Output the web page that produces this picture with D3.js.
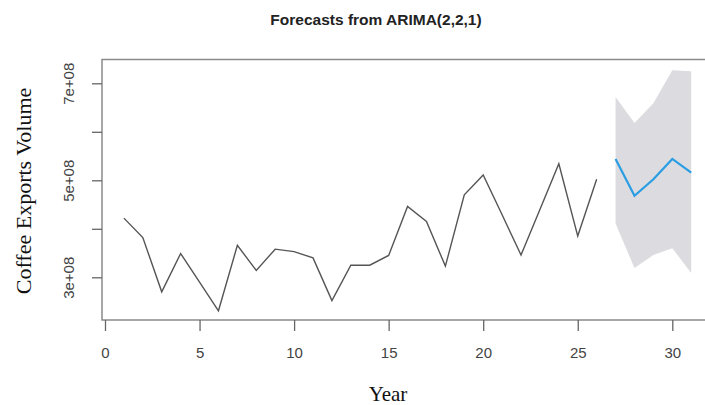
<!DOCTYPE html>
<html>
<head>
<meta charset="utf-8">
<script src="https://cdn.jsdelivr.net/npm/d3@7"></script>
<style>
  body { margin: 0; background: white; }
  svg text { font-family: "Liberation Sans", Arial, sans-serif; }
</style>
</head>
<body>
<div class="chart"></div>
<script>
let width = 705
let height = 405

// observed series, years 1..26
let years = d3.range(1, 27)
let exports = [4.22e8, 3.82e8, 2.70e8, 3.49e8, 2.90e8, 2.31e8, 3.66e8, 3.14e8, 3.58e8, 3.53e8,
    3.40e8, 2.52e8, 3.25e8, 3.25e8, 3.45e8, 4.46e8, 4.15e8, 3.23e8, 4.70e8, 5.11e8,
    4.29e8, 3.46e8, 4.40e8, 5.34e8, 3.85e8, 5.02e8]

// forecast, years 27..31
let fYears = [27, 28, 29, 30, 31]
let fMean = [5.44e8, 4.68e8, 5.02e8, 5.44e8, 5.16e8]
let fLower = [4.11e8, 3.19e8, 3.46e8, 3.60e8, 3.09e8]
let fUpper = [6.72e8, 6.18e8, 6.59e8, 7.27e8, 7.25e8]

let xTicks = [0, 5, 10, 15, 20, 25, 30]
let yTicks = [3e8, 4e8, 5e8, 6e8, 7e8]
let yLabelled = [3e8, 5e8, 7e8]

let box = { left: 102, top: 59.5, right: 720, bottom: 320 }

let x = d3.scaleLinear().domain([0, 30]).range([105, 672.3])
let y = d3.scaleLinear().domain([3e8, 7e8]).range([277.3, 83.3])

let svg = d3.select('div.chart')
    .append('svg')
    .attr('width', width)
    .attr('height', height)

// prediction interval
let band = d3.area()
    .x((d, i) => x(fYears[i]))
    .y0((d, i) => y(fLower[i]))
    .y1((d, i) => y(fUpper[i]))
svg.append('path')
    .datum(fYears)
    .attr('d', band)
    .style('fill', '#dcdce0')

// observed line
let line = d3.line()
    .x(d => x(d[0]))
    .y(d => y(d[1]))
svg.append('path')
    .datum(d3.zip(years, exports))
    .attr('d', line)
    .style('fill', 'none')
    .style('stroke', '#555')
    .style('stroke-width', 1.4)

// forecast mean
svg.append('path')
    .datum(d3.zip(fYears, fMean))
    .attr('d', line)
    .style('fill', 'none')
    .style('stroke', '#2a9de3')
    .style('stroke-width', 2.2)

// plot box
svg.append('rect')
    .attr('x', box.left)
    .attr('y', box.top)
    .attr('width', box.right - box.left)
    .attr('height', box.bottom - box.top)
    .style('fill', 'none')
    .style('stroke', '#8a8a8a')
    .style('stroke-width', 1.5)

// x axis
let xAxis = svg.append('g')
    .attr('transform', 'translate(0,' + box.bottom + ')')
    .call(d3.axisBottom(x).tickValues(xTicks).tickSize(11).tickPadding(0).tickFormat(d3.format('d')))
xAxis.select('.domain').remove()
xAxis.selectAll('line').style('stroke', '#666').style('stroke-width', 1.3)
xAxis.selectAll('text')
    .attr('y', 38)
    .attr('dy', 0)
    .style('font-size', '15px')
    .style('fill', '#444')

// y axis, R style rotated labels
let yAxis = svg.append('g')
    .attr('transform', 'translate(' + box.left + ',0)')
    .call(d3.axisLeft(y).tickValues(yTicks).tickSize(10)
        .tickFormat(d => yLabelled.includes(d) ? (d / 1e8) + 'e+08' : ''))
yAxis.select('.domain').remove()
yAxis.selectAll('line').style('stroke', '#666').style('stroke-width', 1.3)
yAxis.selectAll('text')
    .attr('x', 0)
    .attr('dy', 0)
    .attr('transform', 'translate(-28,0) rotate(-90)')
    .attr('text-anchor', 'middle')
    .attr('y', 0)
    .style('font-size', '15px')
    .style('fill', '#444')

// titles
svg.append('text')
    .attr('x', 376)
    .attr('y', 25)
    .attr('text-anchor', 'middle')
    .style('font-weight', 'bold')
    .style('font-size', '15.5px')
    .style('fill', '#222')
    .text('Forecasts from ARIMA(2,2,1)')

svg.append('text')
    .attr('x', 388)
    .attr('y', 401)
    .attr('text-anchor', 'middle')
    .style('font-family', '"Liberation Serif", "Times New Roman", serif')
    .style('font-size', '21px')
    .style('fill', '#111')
    .text('Year')

svg.append('text')
    .attr('transform', 'translate(31,191) rotate(-90)')
    .attr('text-anchor', 'middle')
    .style('font-family', '"Liberation Serif", "Times New Roman", serif')
    .style('font-size', '22px')
    .style('fill', '#111')
    .text('Coffee Exports Volume')
</script>
</body>
</html>
